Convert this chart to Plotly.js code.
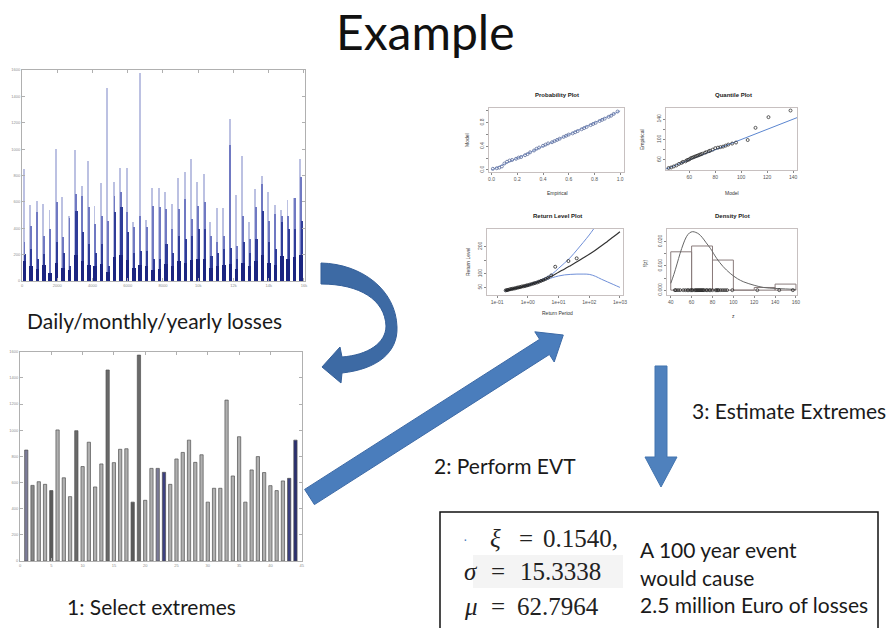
<!DOCTYPE html>
<html><head><meta charset="utf-8">
<script src="https://cdn.plot.ly/plotly-3.0.1.min.js"></script>
<style>html,body{margin:0;padding:0;background:#fff}#chart{width:886px;height:628px}</style>
</head><body><div id="chart"></div>
<script>
// ---- block maxima (one block = 365 days) ----
const years = Array.from({length: 44}, (_, i) => i + 1);
const annualMax = [848,578,606,586,538,1002,636,492,996,722, 908,566,742,1460,752,854,858,450,1574,464,
                   708,708,678,586,780,830,924,754,812,450, 556,556,1230,650,950,450,696,798,676,576,
                   538,612,632,924];
// secondary daily loss levels inside each block
const dailyMid  = [292,419,521,343,394,597,330,480,660,648, 559,432,495,457,643,673,521,406,495,406,
                   572,559,546,394,546,622,470,572,597,343, 292,343,1029,267,495,318,559,737,457,508,
                   490,495,627,787];
const dailyDark = [203,241,165,203,64,292,216,114,533,368, 279,216,279,114,521,559,368,216,229,229,
                   165,165,279,216,343,318,343,394,394,191, 216,241,254,165,292,216,318,533,292,241,
                   445,394,394,457];
const dailyLow  = [150,110,90,120,60,140,100,80,200,150, 120,110,130,70,180,200,160,100,120,110,
                   80,90,130,110,150,140,160,170,170,100, 110,120,130,90,140,110,150,200,140,120,
                   190,170,180,200];
const annualShade = ['#7b7b98','#8a8a8a','#b0b0b0','#b0b0b0','#5a5a5a','#b0b0b0','#b0b0b0','#b0b0b0','#6a6a6a','#b0b0b0',
                     '#b0b0b0','#b0b0b0','#b0b0b0','#6a6a6a','#b0b0b0','#b0b0b0','#b0b0b0','#5a5a5a','#6a6a6a','#b0b0b0',
                     '#b0b0b0','#7b7b98','#3c4080','#b0b0b0','#b0b0b0','#b0b0b0','#b0b0b0','#b0b0b0','#b0b0b0','#b0b0b0',
                     '#b0b0b0','#b0b0b0','#b0b0b0','#b0b0b0','#b0b0b0','#b0b0b0','#b0b0b0','#b0b0b0','#b0b0b0','#b0b0b0',
                     '#b0b0b0','#b0b0b0','#3c4080','#2a2f70'];

// ---- GEV diagnostics ----
const probEmpirical = [0.01,0.04,0.06,0.08,0.10,0.12,0.14,0.16,0.19,0.21,0.23,0.26,0.28,0.30,0.33,0.35,0.37,0.40,0.42,0.44,0.47,0.49,
                       0.51,0.53,0.56,0.58,0.60,0.63,0.65,0.67,0.70,0.72,0.74,0.77,0.79,0.81,0.84,0.86,0.88,0.91,0.93,0.95,0.98];
const probModel     = [0.02,0.03,0.04,0.06,0.11,0.14,0.16,0.17,0.19,0.21,0.22,0.25,0.27,0.30,0.33,0.36,0.38,0.41,0.43,0.45,0.47,0.49,
                       0.51,0.53,0.56,0.58,0.60,0.62,0.64,0.66,0.69,0.71,0.73,0.76,0.78,0.80,0.83,0.85,0.87,0.90,0.92,0.95,0.99];
const unitLine = [0, 1];

const quantModel     = [44,46,48,50,52,54,55,57,58,59,60,61,62,63,64,65,66,67,68,69,70,72,73,75,76,78,80,82,84,86,88,90,93,96,105,111,121,138];
const quantEmpirical = [44,45,47,49,52,54,56,57,59,60,61,63,64,65,66,67,68,69,70,71,72,74,75,77,78,80,83,84,85,86,88,90,92,94,99,123,144,157];
const quantLine = [40, 146];

const rlPeriod = [0.178,0.251,0.398,0.631,1,1.58,2.51,3.98,6.31,10,15.8,25.1,39.8,63.1,100,158,251,398,631,1000];
const rlLevel  = [38,42,47,52,58,65,72,82,93,106,118,131,144,158,172,187,203,220,237,255];
const rlUpperPeriod = [0.178,0.398,1,2.51,6.31,10,15.8,25.1,39.8,63.1,100,141];
const rlUpper       = [36,46,60,76,100,120,140,162,188,215,243,266];
const rlLowerPeriod = [0.178,0.398,1,2.51,6.31,10,15.8,25.1,39.8,63.1,100,158,251,398,631,1000];
const rlLower       = [39,47,56,71,86,92,96,98,99,99,98,91,80,70,60,50];
const rlObsPeriod = [0.19,0.21,0.23,0.26,0.29,0.32,0.36,0.4,0.45,0.5,0.56,0.63,0.71,0.8,0.9,1.0,1.15,1.3,1.5,1.7,2.0,2.3,2.7,3.2,3.8,4.6,5.8,7.8,21,39];
const rlObsLevel  = [39,40,41,43,44,45,46,47,49,50,51,53,54,55,57,58,60,62,64,66,68,71,74,77,81,86,94,126,147,157];

const histMid     = [50,70,90,110,130,150];
const histDensity = [0.0158,0.0182,0.0124,0.0,0.0011,0.0025];
const densZ = [40,43,46,49,52,55,58,61,64,67,70,74,78,84,90,97,104,110,120,129,140,150,160];
const densF = [0.0028,0.0065,0.0108,0.0152,0.019,0.022,0.0236,0.0241,0.0238,0.0231,0.0218,0.0195,0.0172,
               0.0131,0.0098,0.0069,0.0047,0.0034,0.0020,0.0011,0.0007,0.0005,0.0003];

// ---- page geometry helpers (page pixels -> paper fractions) ----
const W = 886, H = 628;
const fx = x => x / W;
const fy = y => 1 - y / H;
const P = (x, y) => fx(x).toFixed(5) + ',' + fy(y).toFixed(5);
const domX = (a, b) => [fx(a), fx(b)];
const domY = (top, bottom) => [fy(bottom), fy(top)];

const dayOf = (y, off) => (y - 1) * 365 + off;

const traces = [
  {type:'bar', x: years.map(y => dayOf(y, 100)), y: annualMax, width: 110, marker:{color:'#bcc1e2', line:{width:0}}, xaxis:'x', yaxis:'y', hoverinfo:'skip'},
  {type:'bar', x: years.map(y => dayOf(y, 140)), y: dailyMid, width: 110, marker:{color:'#7079c2', line:{width:0}}, xaxis:'x', yaxis:'y', hoverinfo:'skip'},
  {type:'bar', x: years.map(y => dayOf(y, 170)), y: dailyDark, width: 120, marker:{color:'#2f3c98', line:{width:0}}, xaxis:'x', yaxis:'y', hoverinfo:'skip'},
  {type:'bar', x: years.map(y => dayOf(y, 140)), y: dailyLow, width: 200, marker:{color:'#1b2580', line:{width:0}}, xaxis:'x', yaxis:'y', hoverinfo:'skip'},

  {type:'bar', x: years, y: annualMax, width: 0.52, marker:{color: annualShade, line:{color:'#505050', width:0.7}}, xaxis:'x2', yaxis:'y2', hoverinfo:'skip'},

  {type:'scatter', mode:'lines', x: unitLine, y: unitLine, line:{color:'#8fa6d6', width:1}, xaxis:'x3', yaxis:'y3', hoverinfo:'skip'},
  {type:'scatter', mode:'markers', x: probEmpirical, y: probModel, marker:{symbol:'circle-open', size:3, color:'#5a6c9c', line:{width:0.8}}, xaxis:'x3', yaxis:'y3', hoverinfo:'skip'},

  {type:'scatter', mode:'lines', x: quantLine, y: quantLine, line:{color:'#5b86d0', width:1}, xaxis:'x4', yaxis:'y4', hoverinfo:'skip'},
  {type:'scatter', mode:'markers', x: quantModel, y: quantEmpirical, marker:{symbol:'circle-open', size:3, color:'#333', line:{width:0.8}}, xaxis:'x4', yaxis:'y4', hoverinfo:'skip'},

  {type:'scatter', mode:'lines', x: rlUpperPeriod, y: rlUpper, line:{color:'#6f8fd8', width:1, shape:'spline'}, xaxis:'x5', yaxis:'y5', hoverinfo:'skip'},
  {type:'scatter', mode:'lines', x: rlLowerPeriod, y: rlLower, line:{color:'#6f8fd8', width:1, shape:'spline'}, xaxis:'x5', yaxis:'y5', hoverinfo:'skip'},
  {type:'scatter', mode:'lines', x: rlPeriod, y: rlLevel, line:{color:'#333', width:1.2, shape:'spline'}, xaxis:'x5', yaxis:'y5', hoverinfo:'skip'},
  {type:'scatter', mode:'markers', x: rlObsPeriod, y: rlObsLevel, marker:{symbol:'circle-open', size:3, color:'#222', line:{width:0.8}}, xaxis:'x5', yaxis:'y5', hoverinfo:'skip'},

  {type:'bar', x: histMid, y: histDensity, width: 20, marker:{color:'rgba(255,255,255,0)', line:{color:'#8a7c7c', width:1}}, xaxis:'x6', yaxis:'y6', hoverinfo:'skip'},
  {type:'scatter', mode:'lines', x: densZ, y: densF, line:{color:'#666', width:1, shape:'spline'}, xaxis:'x6', yaxis:'y6', hoverinfo:'skip'},
  {type:'scatter', mode:'markers', x: quantEmpirical, y: quantEmpirical.map(() => 0), marker:{symbol:'circle-open', size:3, color:'#222', line:{width:0.7}}, xaxis:'x6', yaxis:'y6', hoverinfo:'skip'}
];

// MATLAB-style frame
const mat = (dom, range, anchor, extra) => Object.assign({domain: dom, range: range, anchor: anchor, showline:true, linecolor:'#b0b0b0', linewidth:1,
  mirror:'ticks', ticks:'inside', ticklen:3, tickcolor:'#b0b0b0', tickfont:{size:4, color:'#909090', family:'Liberation Sans'},
  showgrid:false, zeroline:false, fixedrange:true}, extra || {});
// R-style frame
const rax = (dom, range, anchor, extra) => Object.assign({domain: dom, range: range, anchor: anchor, showline:true, linecolor:'#b9b0b0', linewidth:0.8,
  mirror:true, ticks:'outside', ticklen:2, tickcolor:'#888', tickfont:{size:5, color:'#555', family:'Liberation Sans'},
  showgrid:false, zeroline:false, fixedrange:true}, extra || {});

const ann = (x, y, text, o) => Object.assign({xref:'paper', yref:'paper', x: fx(x), y: fy(y), text: text, showarrow:false,
  xanchor:'left', yanchor:'middle', font:{family:'Lato', size:21, color:'#1a1a1a'}}, o || {});
const serif = {family:'Liberation Serif', size:25, color:'#222'};
const small = (x, y, text, o) => ann(x, y, text, Object.assign({xanchor:'center', font:{family:'Liberation Sans', size:5, color:'#333'}}, o || {}));
const bold6 = {family:'Liberation Sans', size:6, color:'#222'};

const annotations = [
  ann(425, 32, 'Example', {xanchor:'center', font:{family:'Lato', size:48, color:'#111'}}),
  ann(25, 320, 'Daily/monthly/yearly losses'),
  ann(65, 606, '1: Select extremes'),
  ann(432, 465, '2: Perform EVT'),
  ann(690, 410, '3: Estimate Extremes'),
  ann(638, 549, 'A 100 year event'),
  ann(638, 577, 'would cause'),
  ann(638, 604, '2.5 million Euro of losses'),

  ann(461, 539, '·', {font:{family:'Liberation Sans', size:14, color:'#4f81bd'}}),
  ann(488, 538, '<i>ξ</i>', {font: serif}),
  ann(517, 538, '=', {font: serif}),
  ann(541, 538, '0.1540,', {font: serif}),
  ann(462, 571, '<i>σ</i>', {font: serif}),
  ann(489, 571, '=', {font: serif}),
  ann(518, 571, '15.3338', {font: serif}),
  ann(462, 606, '<i>μ</i>', {font: serif}),
  ann(489, 606, '=', {font: serif}),
  ann(515, 606, '62.7964', {font: serif}),

  small(557, 95, '<b>Probability Plot</b>', {font: bold6}),
  small(557, 193, 'Empirical'),
  small(467, 140, 'Model', {textangle:-90}),
  small(733, 95, '<b>Quantile Plot</b>', {font: bold6}),
  small(732, 193, 'Model'),
  small(642, 140, 'Empirical', {textangle:-90}),
  small(557, 216, '<b>Return Level Plot</b>', {font: bold6}),
  small(557, 313, 'Return Period'),
  small(468, 262, 'Return Level', {textangle:-90}),
  small(732, 216, '<b>Density Plot</b>', {font: bold6}),
  small(733, 316, 'z'),
  small(645, 263, 'f(z)', {textangle:-90})
];

const shapes = [
  // faint highlight behind the sigma row
  {type:'rect', xref:'paper', yref:'paper', x0: fx(473), x1: fx(623), y0: fy(588), y1: fy(555), fillcolor:'#f4f4f4', line:{width:0}, layer:'below'},
  // result box
  {type:'rect', xref:'paper', yref:'paper', x0: fx(440), x1: fx(878), y0: fy(640), y1: fy(512), line:{color:'#111', width:1.5}},
  // curved arrow: daily losses -> extremes
  {type:'path', xref:'paper', yref:'paper', fillcolor:'#3d6aa4', line:{color:'#35609a', width:1},
   path: `M ${P(321,263)} C ${P(362,264)} ${P(396,290)} ${P(397,327)} C ${P(398,352)} ${P(378,369)} ${P(342,373)} L ${P(341,383)} L ${P(322,367)} L ${P(340,347)} L ${P(342,357)} C ${P(368,355)} ${P(386,343)} ${P(386,326)} C ${P(385,300)} ${P(360,284)} ${P(321,284)} Z`},
  // diagonal arrow: extremes -> EVT fit
  {type:'path', xref:'paper', yref:'paper', fillcolor:'#4a7dbc', line:{color:'#3d6aa6', width:1},
   path: `M ${P(304.6,489.4)} L ${P(539.6,339.3)} L ${P(534.8,331.8)} L ${P(563.3,335)} L ${P(554.2,362)} L ${P(549.4,354.5)} L ${P(314.4,504.6)} Z`},
  // down arrow: fit -> estimates
  {type:'path', xref:'paper', yref:'paper', fillcolor:'#4f81bd', line:{color:'#4375b0', width:1},
   path: `M ${P(655,366)} L ${P(667,366)} L ${P(667,457)} L ${P(677,457)} L ${P(661,487)} L ${P(645,457)} L ${P(655,457)} Z`}
];

const layout = {
  width: W, height: H, margin:{l:0, r:0, t:0, b:0}, paper_bgcolor:'#fff', plot_bgcolor:'#fff',
  showlegend:false, barmode:'overlay', bargap:0,
  xaxis:  mat(domX(22, 305), [0, 16060], 'y', {tickvals:[0,2000,4000,6000,8000,10000,12000,14000,16000]}),
  yaxis:  mat(domY(70, 281), [0, 1600], 'x', {dtick:200}),
  xaxis2: mat(domX(20, 301.7), [0, 45], 'y2', {tickvals:[0,5,10,15,20,25,30,35,40,45]}),
  yaxis2: mat(domY(351.7, 561), [0, 1600], 'x2', {dtick:200}),
  xaxis3: rax(domX(489, 624), [-0.02, 1.03], 'y3', {tickvals:[0,0.2,0.4,0.6,0.8,1], ticktext:['0.0','0.2','0.4','0.6','0.8','1.0']}),
  yaxis3: rax(domY(108, 172), [-0.034, 1.05], 'x3', {tickvals:[0,0.2,0.4,0.6,0.8,1], ticktext:['0.0','','0.4','','0.8',''], tickangle:-90}),
  xaxis4: rax(domX(666, 797), [42, 143], 'y4', {tickvals:[60,80,100,120,140]}),
  yaxis4: rax(domY(108, 170), [40, 162], 'x4', {tickvals:[60,80,100,120,140], ticktext:['60','','100','','140'], tickangle:-90}),
  xaxis5: rax(domX(487, 623), [-1.33, 3.1], 'y5', {type:'log', tickvals:[0.1,1,10,100,1000], ticktext:['1e-01','1e+00','1e+01','1e+02','1e+03']}),
  yaxis5: rax(domY(229, 295), [22, 265], 'x5', {tickvals:[50,100,150,200], ticktext:['50','100','','200'], tickangle:-90}),
  xaxis6: rax(domX(667, 797), [36.4, 161], 'y6', {tickvals:[40,60,80,100,120,140,160]}),
  yaxis6: rax(domY(229, 295), [-0.002, 0.0252], 'x6', {tickvals:[0,0.005,0.01,0.015,0.02], ticktext:['0.000','','0.010','','0.020'], tickangle:-90}),
  annotations: annotations,
  shapes: shapes
};

Plotly.newPlot('chart', traces, layout, {staticPlot:true, displayModeBar:false});
</script>
</body></html>
